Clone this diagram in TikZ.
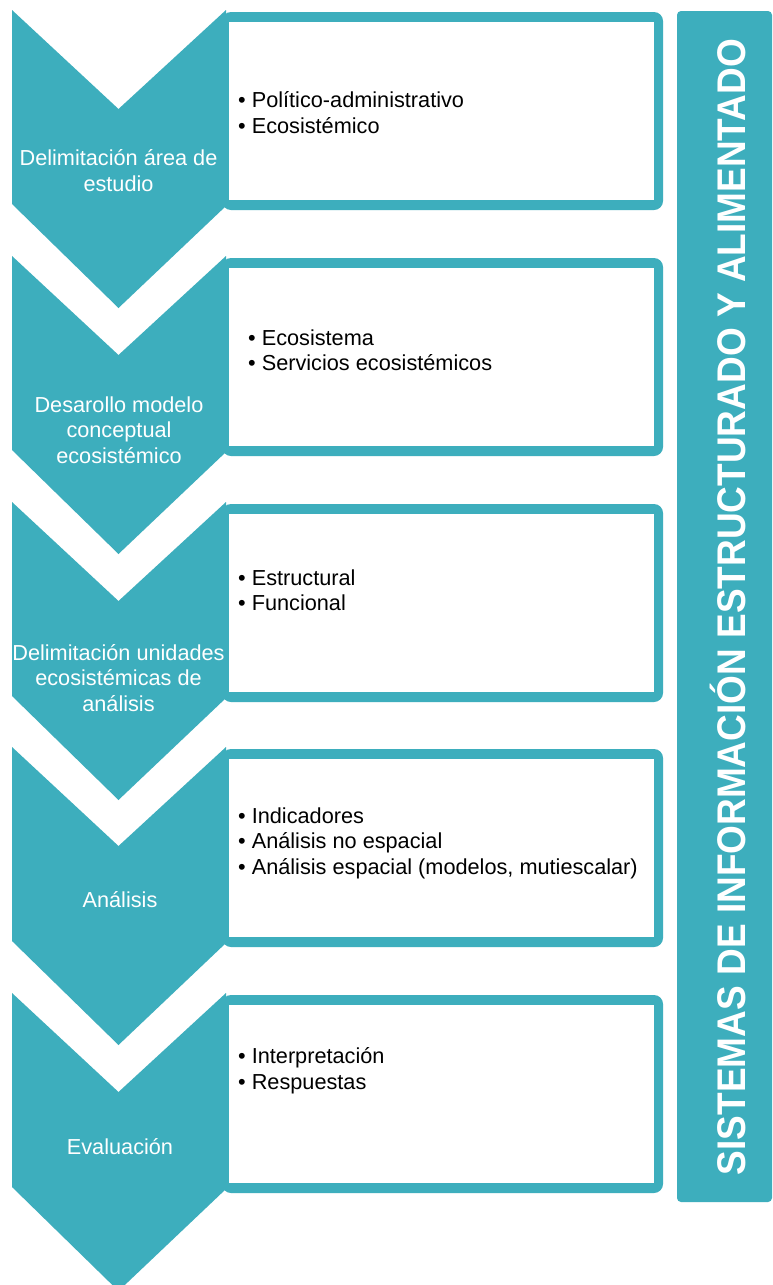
\documentclass[tikz,border=0pt]{standalone}
\usepackage{fontspec}
\setmainfont{Liberation Sans}
\definecolor{tealc}{HTML}{3DAEBD}
\begin{document}
\begin{tikzpicture}[x=1pt,y=-1pt,
  chev/.style={fill=tealc},
  boxframe/.style={fill=tealc, rounded corners=9pt},
  boxinner/.style={fill=white},
  chevtext/.style={text=white, align=center, inner sep=0pt, font=\fontsize{21.7}{25.5}\selectfont},
  itemtext/.style={text=black, align=left, anchor=west, inner sep=0pt, font=\fontsize{21.7}{25.5}\selectfont},
  bartext/.style={text=white, rotate=90, inner sep=0pt, font=\fontsize{40}{44}\selectfont\bfseries}]
\useasboundingbox (0,0) rectangle (772,1285);
\fill[white] (0,0) rectangle (772,1285);
% right bar
\fill[tealc, rounded corners=4pt] (772,11) -- (677,11) -- (677,1202) -- (772,1202) -- cycle;
\node[bartext] (bar) at (727.5,607) {\scalebox{0.925}[1]{SISTEMAS DE INFORMACIÓN ESTRUCTURADO Y ALIMENTADO}};
% boxes and chevrons
\foreach \T in {10,256,502,747,993}{
  \fill[boxframe] (222,\T+2) rectangle (663,\T+200);
  \fill[boxinner] (229,\T+12) rectangle (654,\T+190);
  \fill[chev] (12,\T) -- (118.5,\T+99) -- (226,\T) -- (226,\T+196) -- (118.5,\T+298) -- (12,\T+194) -- cycle;
}
% chevron labels
\node[chevtext] (c1) at (118.5,170.5) {Delimitación área de\\estudio};
\node[chevtext] (c2) at (119,430) {Desarollo modelo\\conceptual\\ecosistémico};
\node[chevtext] (c3) at (118.5,678) {Delimitación unidades\\ecosistémicas de\\análisis};
\node[chevtext] (c4) at (120,900) {Análisis};
\node[chevtext] (c5) at (120,1147) {Evaluación};
% box items
\node[itemtext] (b1) at (238,112.5) {• Político-administrativo\\• Ecosistémico};
\node[itemtext] (b2) at (248,350) {• Ecosistema\\• Servicios ecosistémicos};
\node[itemtext] (b3) at (238,590) {• Estructural\\• Funcional};
\node[itemtext] (b4) at (238,843) {• Indicadores\\• Análisis no espacial\\• Análisis espacial (modelos, mutiescalar)};
\node[itemtext] (b5) at (238,1070.5) {• Interpretación\\• Respuestas};
\end{tikzpicture}
\end{document}
